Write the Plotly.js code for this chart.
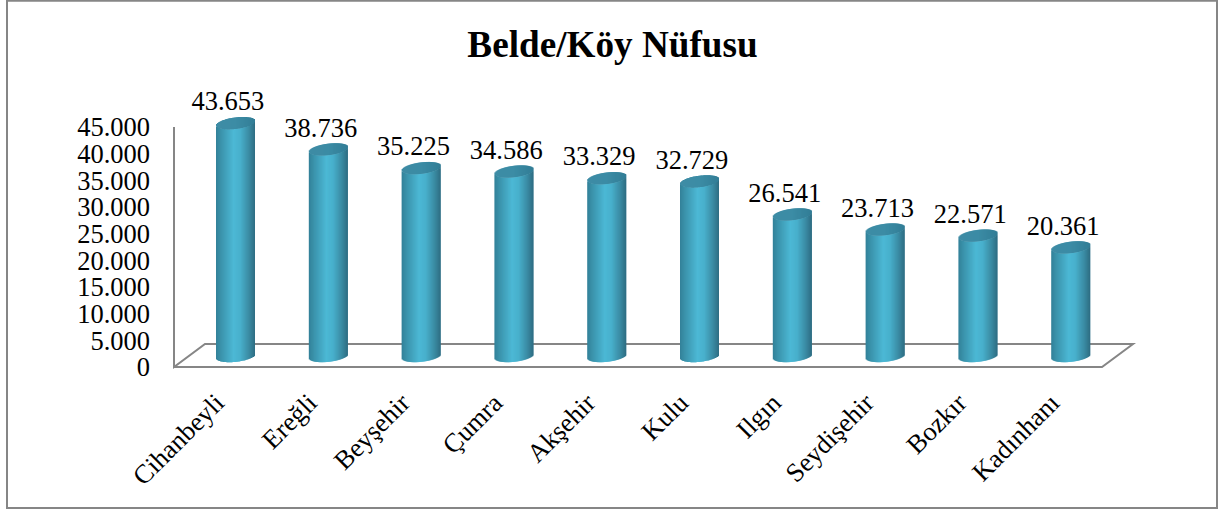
<!DOCTYPE html>
<html><head><meta charset="utf-8">
<script src="https://cdn.plot.ly/plotly-3.0.1.min.js"></script>
<style>html,body{margin:0;padding:0;background:#fff}#c{width:1221px;height:510px}</style>
</head><body><div id="c"></div>
<script>
const categories = ["Cihanbeyli","Ereğli","Beyşehir","Çumra","Akşehir","Kulu","Ilgın","Seydişehir","Bozkır","Kadınhanı"];
const values = [43653,38736,35225,34586,33329,32729,26541,23713,22571,20361];
const yTicks = [0,5000,10000,15000,20000,25000,30000,35000,40000,45000];

const W=1221,H=510,L=174,R=1102,T=127,B=367;
const pxX=(R-L)/10, pxY=45000/(B-T);
const PL=164,PR=1150,PT=47,PB=377;
const xLo=-0.5-(L-PL)/pxX, xHi=9.5+(PR-R)/pxX, yLo=-(PB-B)*pxY, yHi=(B-PT)*pxY;
const idx=categories.map((_,i)=>i);
const FONT='"Liberation Serif","Times New Roman",serif';
const GRAY='#868686';
const depthY=11*pxY, shiftX=15.1/pxX, barW=39, ell=5.8*pxY, tilt=2.2*pxY;

const stops=[[0,[50,128,152]],[0.12,[58,146,170]],[0.45,[76,184,213]],[0.62,[72,176,204]],[0.85,[58,138,162]],[1,[46,108,130]]];
const capStops=[[0,[62,140,165]],[0.5,[60,140,165]],[1,[50,125,150]]];
function col(st,t){for(let k=1;k<st.length;k++){if(t<=st[k][0]){const f=(t-st[k-1][0])/(st[k][0]-st[k-1][0]);
  const c=st[k-1][1].map((a,j)=>Math.round(a+(st[k][1][j]-a)*f));return `rgb(${c})`;}}return `rgb(${st[st.length-1][1]})`;}

const traces=[];
for(let p=0;p<barW;p++){
  const t=(p+0.5)/barW, u=2*t-1, s=Math.sqrt(Math.max(0,1-u*u));
  const front=depthY-ell*s+tilt*u;
  const offset=shiftX+(p-barW/2)/pxX, width=(p===barW-1?1:2)/pxX;
  traces.push({type:'bar',x:idx,y:values,base:idx.map(()=>front),offset,width,cliponaxis:false,
    marker:{color:col(stops,t),line:{width:0}},hoverinfo:'skip',showlegend:false});
  traces.push({type:'bar',x:idx,y:idx.map(()=>2*ell*s),base:values.map(v=>v+front),offset,width,cliponaxis:false,
    marker:{color:col(capStops,t),line:{width:0}},hoverinfo:'skip',showlegend:false});
}
const fmt=v=>String(v).replace(/(\d)(\d{3})$/,'$1.$2');
traces.push({type:'scatter',mode:'text',x:idx.map(i=>i+7.5/pxX),y:values.map(v=>v+depthY+19.5*pxY),
  text:values.map(fmt),textposition:'middle center',cliponaxis:false,
  textfont:{family:FONT,size:26.5,color:'#000'},hoverinfo:'skip',showlegend:false});

const dx=31/pxX, dy=23*pxY;
const px=x=>(x-PL)/(PR-PL), py=y=>(PB-y)/(PB-PT);
const layout={width:W,height:H,margin:{l:PL,r:W-PR,t:PT,b:H-PB},paper_bgcolor:'#fff',plot_bgcolor:'rgba(0,0,0,0)',
  separators:',.',barmode:'overlay',showlegend:false,
  title:{text:'<b>Belde/Köy Nüfusu</b>',font:{family:FONT,size:37.2,color:'#000'},x:612.5/W,xanchor:'center',y:1-44/H,yanchor:'middle'},
  xaxis:{range:[xLo,xHi],tickmode:'array',tickvals:idx,ticktext:categories,tickangle:-45,ticks:'',showgrid:false,zeroline:false,showline:false,
    tickfont:{family:FONT,size:26.5,color:'#000'},ticklabelstandoff:4,ticklabelshift:-4},
  yaxis:{range:[yLo,yHi],tickmode:'array',tickvals:yTicks,tickformat:',d',ticks:'',showgrid:false,zeroline:false,showline:false,
    tickfont:{family:FONT,size:26.5,color:'#000'},ticklabelstandoff:13},
  shapes:[
    {type:'path',layer:'below',xref:'x',yref:'y',path:`M -0.5 45000 L -0.5 0 L ${-0.5+dx} ${dy} L ${9.5+dx} ${dy} L 9.5 0 L -0.5 0`,line:{color:GRAY,width:2},fillcolor:'rgba(0,0,0,0)'},
    {type:'rect',layer:'below',xref:'paper',yref:'paper',x0:px(7),x1:px(1217),y0:py(0.8),y1:py(508),line:{color:GRAY,width:2},fillcolor:'rgba(0,0,0,0)'}
  ]};
Plotly.newPlot('c',traces,layout,{displayModeBar:false,staticPlot:true});
</script></body></html>
